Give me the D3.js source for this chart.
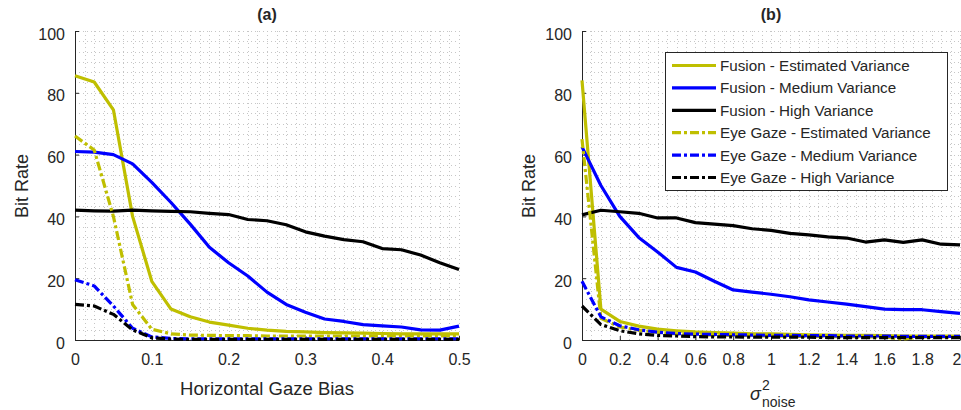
<!DOCTYPE html>
<html>
<head>
<meta charset="utf-8">
<script src="https://cdn.jsdelivr.net/npm/d3@7"></script>
<style>
  body { margin: 0; background: #fff; }
  text { font-family: "Liberation Sans", Arial, Helvetica, sans-serif; fill: #262626; }
</style>
</head>
<body>
<svg id="chart" width="961" height="410"></svg>
<script>
// ---- data -------------------------------------------------------------
// (a) bit rate vs horizontal gaze bias
const biasLevels = [0, 0.025, 0.05, 0.075, 0.1, 0.125, 0.15, 0.175, 0.2, 0.225, 0.25,
                    0.275, 0.3, 0.325, 0.35, 0.375, 0.4, 0.425, 0.45, 0.475, 0.5];
const fusionEstA  = [85.5, 83.5, 74.5, 40, 19, 10, 7.5, 5.8, 4.8, 3.8, 3.2, 2.8, 2.6, 2.4, 2.3, 2.2, 2.1, 2.0, 2.0, 2.0, 2.0];
const fusionMedA  = [61, 60.8, 60, 57, 51, 44.5, 37.5, 30, 25, 20.7, 15.5, 11.5, 9, 6.8, 6, 5, 4.6, 4.2, 3.3, 3.2, 4.5];
const fusionHighA = [42, 41.8, 41.7, 42, 41.8, 41.6, 41.5, 41, 40.6, 39, 38.6, 37.3, 35, 33.6, 32.5, 31.8, 29.6, 29.2, 27.5, 25, 22.8];
const eyeEstA     = [66, 61.5, 40, 11.5, 3.5, 2, 1.6, 1.5, 1.4, 1.4, 1.3, 1.3, 1.3, 1.3, 1.3, 1.3, 1.3, 1.3, 1.3, 1.3, 1.3];
const eyeMedA     = [19.5, 17.5, 11, 3.8, 1, 0.5, 0.4, 0.4, 0.4, 0.4, 0.4, 0.4, 0.4, 0.4, 0.4, 0.4, 0.4, 0.4, 0.4, 0.4, 0.4];
const eyeHighA    = [11.5, 11, 8.3, 3.3, 0.7, 0.3, 0.2, 0.2, 0.2, 0.2, 0.2, 0.2, 0.2, 0.2, 0.2, 0.2, 0.2, 0.2, 0.2, 0.2, 0.2];

// (b) bit rate vs noise variance
const noiseLevels = [0, 0.1, 0.2, 0.3, 0.4, 0.5, 0.6, 0.7, 0.8, 0.9, 1.0,
                     1.1, 1.2, 1.3, 1.4, 1.5, 1.6, 1.7, 1.8, 1.9, 2.0];
const fusionEstB  = [84, 10, 6, 4.5, 3.5, 3, 2.6, 2.4, 2.2, 2.0, 2.0, 1.8, 1.7, 1.6, 1.5, 1.5, 1.4, 1.3, 1.3, 1.3, 1.3];
const fusionMedB  = [62.5, 50, 40, 33.2, 28.5, 23.5, 22, 19, 16.2, 15.5, 14.8, 14, 13, 12.3, 11.6, 10.8, 10, 9.8, 9.8, 9.2, 8.6];
const fusionHighB = [40.5, 42, 41.5, 41, 39.5, 39.5, 38, 37.5, 37, 36, 35.5, 34.5, 34, 33.4, 33, 31.7, 32.4, 31.6, 32.4, 31, 30.8];
const eyeEstB     = [65, 7, 4.2, 3.2, 2.5, 2.0, 1.8, 1.6, 1.5, 1.4, 1.3, 1.2, 1.2, 1.1, 1.1, 1.0, 1.0, 0.3, 1.0, 1.0, 1.0];
const eyeMedB     = [19, 7.5, 4.6, 3.3, 2.5, 2.1, 1.9, 1.8, 1.7, 1.6, 1.5, 1.5, 1.4, 1.4, 1.3, 1.3, 1.3, 1.2, 1.2, 1.2, 1.2];
const eyeHighB    = [11, 5, 3, 2, 1.5, 1.3, 1.1, 1.0, 1.0, 0.9, 0.9, 0.9, 0.9, 0.8, 0.8, 0.8, 0.8, 0.8, 0.8, 0.8, 0.8];

const seriesNames = ["Fusion - Estimated Variance", "Fusion - Medium Variance", "Fusion - High Variance",
                     "Eye Gaze - Estimated Variance", "Eye Gaze - Medium Variance", "Eye Gaze - High Variance"];
const seriesColors = ["#bfbf00", "#0000ff", "#000000", "#bfbf00", "#0000ff", "#000000"];
const seriesDashed = [false, false, false, true, true, true];

const yTicks  = [0, 20, 40, 60, 80, 100];
const xTicksA = [0, 0.1, 0.2, 0.3, 0.4, 0.5];
const xTicksB = [0, 0.2, 0.4, 0.6, 0.8, 1, 1.2, 1.4, 1.6, 1.8, 2];

// ---- drawing ----------------------------------------------------------
const svg = d3.select("#chart");
const plotTop = 31, plotBottom = 340;
const DASH = "9,3,3,3";

function drawPanel(cfg) {
  const x = d3.scaleLinear().domain(cfg.xDomain).range(cfg.xRange);
  const y = d3.scaleLinear().domain([0, 100]).range([plotBottom, plotTop]);
  const g = svg.append("g");

  // dotted minor grid
  const grid = g.append("g").attr("stroke", "#c6c6c6").attr("stroke-width", 1)
    .attr("stroke-dasharray", "1,3");
  const yStep = 100 / 30;
  for (let i = 1; i <= 30; i++) {
    const yy = Math.round(y(i * yStep)) + 0.5;
    grid.append("line").attr("x1", cfg.xRange[0]).attr("x2", cfg.xRange[1])
      .attr("y1", yy).attr("y2", yy);
  }
  const xStep = (cfg.xDomain[1] - cfg.xDomain[0]) / cfg.xGridCount;
  for (let i = 1; i <= cfg.xGridCount; i++) {
    const xx = Math.round(x(i * xStep)) + 0.5;
    grid.append("line").attr("x1", xx).attr("x2", xx)
      .attr("y1", plotTop).attr("y2", plotBottom);
  }

  // axes with inward ticks
  const yAxis = d3.axisLeft(y).tickValues(yTicks).tickSizeInner(-4).tickSizeOuter(0).tickPadding(10);
  const xAxis = d3.axisBottom(x).tickValues(cfg.xTicks).tickFormat(d3.format("")).tickSizeInner(-4)
    .tickSizeOuter(0).tickPadding(14);
  const gy = g.append("g").attr("transform", `translate(${cfg.xRange[0]},0)`).call(yAxis);
  const gx = g.append("g").attr("transform", `translate(0,${plotBottom})`).call(xAxis);
  [gx, gy].forEach(a => {
    a.selectAll("path.domain").attr("stroke", "#262626");
    a.selectAll(".tick line").attr("stroke", "#262626");
    a.selectAll(".tick text").attr("font-size", 16).attr("fill", "#3c3c3c")
      .style("font-family", '"Liberation Sans", Arial, sans-serif');
  });
  gy.selectAll(".tick text").attr("dy", "0.5em");
  // the last x label sits at the right edge of the page, keep it inside
  gx.selectAll(".tick text").filter(d => d === cfg.xDomain[1] && cfg.clampLast)
    .attr("text-anchor", "end").attr("x", 961 - cfg.xRange[1]);

  // series
  const line = d3.line().x((d, i) => x(cfg.xs[i])).y(d => y(d));
  cfg.series.forEach((vals, k) => {
    g.append("path").datum(vals)
      .attr("d", line)
      .attr("fill", "none")
      .attr("stroke", seriesColors[k])
      .attr("stroke-width", 3.2)
      .attr("stroke-linejoin", "round")
      .attr("stroke-dasharray", seriesDashed[k] ? DASH : null);
  });

  // title
  const cx = (cfg.xRange[0] + cfg.xRange[1]) / 2;
  g.append("text").attr("x", cx).attr("y", 20).attr("text-anchor", "middle")
    .attr("font-size", 16).attr("font-weight", "bold").attr("fill", "#000").text(cfg.title);

  // y label
  g.append("text").attr("transform", `translate(${cfg.yLabelX},186) rotate(-90)`)
    .attr("text-anchor", "middle").attr("font-size", 18).text("Bit Rate");

  return { g, x, y, cx };
}

// panel (a)
const pa = drawPanel({
  xDomain: [0, 0.5], xRange: [75, 459], xTicks: xTicksA, xGridCount: 40,
  xs: biasLevels,
  series: [fusionEstA, fusionMedA, fusionHighA, eyeEstA, eyeMedA, eyeHighA],
  title: "(a)", yLabelX: 28, clampLast: false
});
pa.g.append("text").attr("x", pa.cx).attr("y", 395).attr("text-anchor", "middle")
  .attr("font-size", 18.5).text("Horizontal Gaze Bias");

// panel (b)
const pb = drawPanel({
  xDomain: [0, 2], xRange: [582, 960], xTicks: xTicksB, xGridCount: 40,
  xs: noiseLevels,
  series: [fusionEstB, fusionMedB, fusionHighB, eyeEstB, eyeMedB, eyeHighB],
  title: "(b)", yLabelX: 535, clampLast: true
});
const sig = pb.g.append("text").attr("x", 750).attr("y", 400).attr("font-size", 18);
sig.append("tspan").attr("font-style", "italic").text("σ");
pb.g.append("text").attr("x", 762).attr("y", 390).attr("font-size", 14).text("2");
pb.g.append("text").attr("x", 762).attr("y", 407).attr("font-size", 14).text("noise");

// legend
const lg = svg.append("g").attr("transform", "translate(665,52)");
lg.append("rect").attr("x", 0.5).attr("y", 0.5).attr("width", 282).attr("height", 138)
  .attr("fill", "#fff").attr("stroke", "#262626").attr("stroke-width", 1);
seriesNames.forEach((name, k) => {
  const yy = 13.5 + k * 22.4;
  lg.append("line").attr("x1", 7).attr("x2", 51).attr("y1", yy).attr("y2", yy)
    .attr("stroke", seriesColors[k]).attr("stroke-width", 3.2)
    .attr("stroke-dasharray", seriesDashed[k] ? DASH : null);
  lg.append("text").attr("x", 55).attr("y", yy).attr("dy", "0.36em")
    .attr("font-size", 15.2).text(name);
});
</script>
</body>
</html>
